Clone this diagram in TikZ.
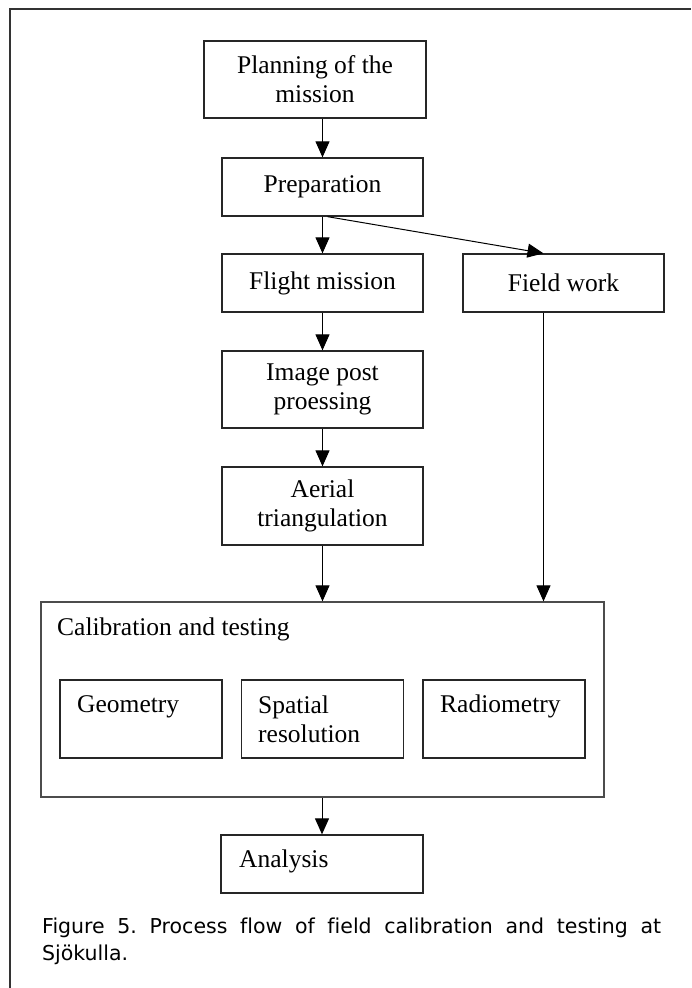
\documentclass[tikz,border=0pt]{standalone}
\usepackage{fontspec}
\setmainfont{Liberation Serif}
\newfontfamily\capfont[Ligatures=NoCommon]{DejaVu Sans}
\usetikzlibrary{arrows.meta}

\begin{document}
\frenchspacing
\begin{tikzpicture}[x=1pt,y=-1pt,
  box/.style={draw=black!85,line width=1.3pt,inner sep=0pt,align=center,
    minimum width=201pt,minimum height=58pt,font=\fontsize{25.5}{29}\selectfont},
  lbl/.style={anchor=base west,inner sep=0pt,align=left,font=\fontsize{25.5}{29}\selectfont},
  flow/.style={line width=1pt,-{Triangle[length=16pt,width=14pt]}}]
\useasboundingbox (0,0) rectangle (691,988);
\draw[line width=1.3pt,black!80] (10,988) -- (10,9) -- (691,9);

% main column
\node[box,minimum width=222pt,minimum height=77pt] (plan) at (315,79.5) {Planning of the\\mission};
\node[box] (prep) at (322.5,187) {Preparation};
\node[box] (flight) at (322.5,283) {Flight mission};
\node[box] (field) at (563.5,283) {Field work};
\node[box,minimum height=77pt] (post) at (322.5,389.5) {Image post\\proessing};
\node[box,minimum height=78pt] (aerial) at (322.5,506) {Aerial\\triangulation};

% calibration block
\node[box,draw=black!70,minimum width=563pt,minimum height=195pt] (calib) at (322.5,699.5) {};
\node[lbl] (calibtxt) at (57,635) {Calibration and testing};
\node[box,minimum width=162pt,minimum height=78pt] (geom) at (141,719) {};
\node[lbl] (geomtxt) at (77,712) {Geometry};
\node[box,minimum width=162pt,minimum height=78pt] (spat) at (322.5,719) {};
\node[lbl,anchor=north west] (spattxt) at (258,695.5) {Spatial\\resolution};
\node[box,minimum width=162pt,minimum height=78pt] (radio) at (504,719) {};
\node[lbl] (radiotxt) at (440,712) {Radiometry};

\node[box,minimum width=202pt] (anal) at (322,864) {};
\node[lbl] (analtxt) at (239,867) {Analysis};

% arrows
\draw[flow] (plan.south -| prep.south) -- (prep.north);
\draw[flow] (prep) -- (flight);
\draw[flow] ([xshift=5pt]prep.south) -- ([xshift=-20pt]field.north);
\draw[flow] (flight) -- (post);
\draw[flow] (post) -- (aerial);
\draw[flow] (aerial) -- (aerial |- calib.north);
\draw[flow] ([xshift=-20pt]field.south) -- ([xshift=-20pt]field.south |- calib.north);
\draw[flow] (calib.south -| anal.north) -- (anal);

\node[anchor=north west,inner sep=0pt,text width=619pt,align=justify,
  font=\capfont\fontsize{20.5}{27}\selectfont] (caption) at (42,918)
  {Figure 5. Process flow of field calibration and testing at\linebreak Sjökulla.};
\end{tikzpicture}
\end{document}
